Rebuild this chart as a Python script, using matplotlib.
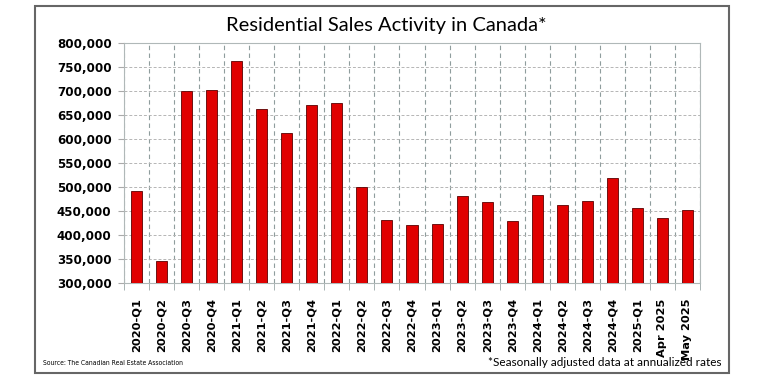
import matplotlib.pyplot as plt
from matplotlib.patches import Rectangle
from matplotlib.ticker import FuncFormatter, MultipleLocator
import numpy as np

# data
periods = ['2020-Q1', '2020-Q2', '2020-Q3', '2020-Q4',
           '2021-Q1', '2021-Q2', '2021-Q3', '2021-Q4',
           '2022-Q1', '2022-Q2', '2022-Q3', '2022-Q4',
           '2023-Q1', '2023-Q2', '2023-Q3', '2023-Q4',
           '2024-Q1', '2024-Q2', '2024-Q3', '2024-Q4',
           '2025-Q1', 'Apr 2025', 'May 2025']
sales = [492000, 346000, 700000, 703000,
         763000, 662000, 612000, 671000,
         674000, 501000, 432000, 421000,
         423000, 481000, 469000, 429000,
         483000, 463000, 471000, 519000,
         457000, 436000, 452000]

title = 'Residential Sales Activity in Canada*'
source = 'Source: The Canadian Real Estate Association'
note = '*Seasonally adjusted data at annualized rates'

fig = plt.figure(figsize=(7.59, 3.80), dpi=100)
W, H = 759, 380

# outer frame
fig.patches.append(Rectangle((35 / W, 1 - 373 / H), (729 - 35) / W, (373 - 6) / H,
                             transform=fig.transFigure, fill=False,
                             edgecolor='#666666', linewidth=1.5))

ax = fig.add_axes([124 / W, 1 - 283 / H, (700 - 124) / W, (283 - 43) / H])
x = np.arange(len(periods))
ax.bar(x, np.array(sales) - 300000, bottom=300000, width=0.44,
       color='#e00000', edgecolor='#5a0000', linewidth=0.6, zorder=3)

ax.set_xlim(-0.5, len(periods) - 0.5)
ax.set_ylim(300000, 800000)
ax.yaxis.set_major_locator(MultipleLocator(50000))
ax.yaxis.set_major_formatter(FuncFormatter(lambda v, p: f'{int(v):,}'))
ax.set_xticks(x)
ax.set_xticklabels(periods, rotation=90, fontsize=8.2, fontweight='bold')
ax.set_xticks(np.arange(len(periods) + 1) - 0.5, minor=True)
ax.tick_params(axis='x', which='major', length=0, pad=11)
ax.tick_params(axis='x', which='minor', length=5, color='#9aa7a7')
ax.tick_params(axis='y', labelsize=8.6, length=4, color='#aaaaaa', pad=5)
for lbl in ax.get_yticklabels():
    lbl.set_fontweight('bold')

ax.grid(True, axis='y', which='major', linestyle=(0, (3, 2)), color='#b5b5b5', linewidth=0.7, zorder=0)
ax.grid(True, axis='x', which='minor', linestyle=(0, (4, 3)), color='#8f9d9d', linewidth=0.8, zorder=0)
for s in ax.spines.values():
    s.set_color('#b0b8b8')
    s.set_linewidth(0.8)

fig.text(386 / W, 1 - 25 / H, title, ha='center', va='center', fontsize=14.5, family='Lato')
fig.text(43 / W, 1 - 363 / H, source, ha='left', va='center', fontsize=4.9,
         family='Liberation Sans Narrow', stretch='condensed')
fig.text(721 / W, 1 - 362 / H, note, ha='right', va='center', fontsize=8.5, family='Lato')

fig.savefig('out.png', dpi=100)
